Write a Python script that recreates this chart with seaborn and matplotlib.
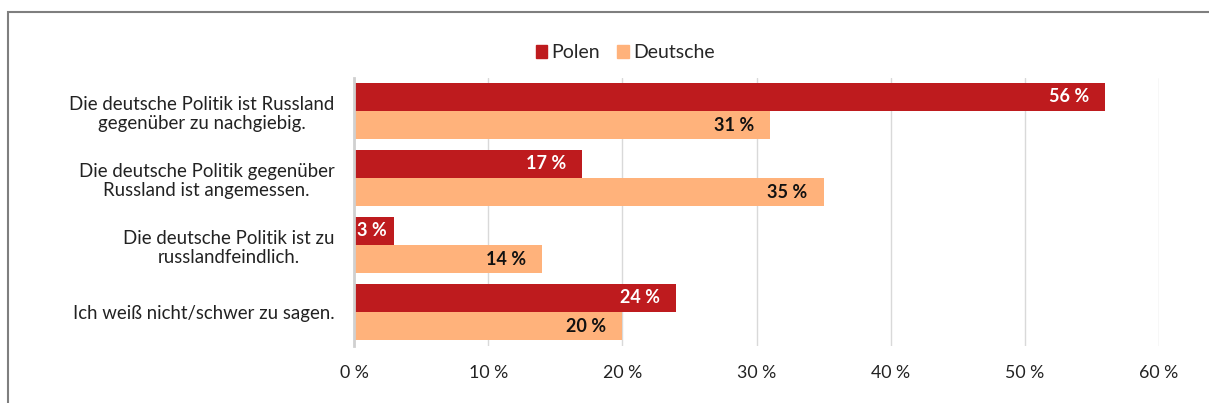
import matplotlib
matplotlib.use("Agg")
import matplotlib.pyplot as plt
import matplotlib.patches as mpatches
import seaborn as sns
import pandas as pd

categories = [
    "Die deutsche Politik ist Russland\ngegenüber zu nachgiebig.",
    "Die deutsche Politik gegenüber\nRussland ist angemessen.",
    "Die deutsche Politik ist zu\nrusslandfeindlich.",
    "Ich weiß nicht/schwer zu sagen.",
]
groups = ["Polen", "Deutsche"]
polen = [56, 17, 3, 24]
deutsche = [31, 35, 14, 20]
xticks = [0, 10, 20, 30, 40, 50, 60]
xticklabels = ["0 %", "10 %", "20 %", "30 %", "40 %", "50 %", "60 %"]

colors = {"Polen": "#BE1B1E", "Deutsche": "#FFB27B"}
label_colors = {"Polen": "white", "Deutsche": "#111111"}

df = pd.DataFrame({
    "cat": categories * 2,
    "group": [groups[0]] * 4 + [groups[1]] * 4,
    "val": polen + deutsche,
})

sns.set_theme(style="white")
plt.rcParams["font.family"] = ["Lato", "DejaVu Sans"]

fig = plt.figure(figsize=(12.09, 4.03), dpi=100)
W, H = 1209, 403
ax = fig.add_axes([354 / W, 1 - 345.5 / H, 805 / W, 268 / H])

sns.barplot(data=df, y="cat", x="val", hue="group", orient="h",
            palette=colors, width=0.836, ax=ax, legend=False,
            edgecolor="none", saturation=1)

for cont, g in zip(ax.containers, groups):
    for bar in cont:
        v = bar.get_width()
        yc = bar.get_y() + bar.get_height() / 2
        txt = f"{v:.0f} %"
        if v < 5:
            ax.text(0.2, yc, txt, ha="left", va="center",
                    color=label_colors[g], fontsize=13, fontweight="bold")
        else:
            ax.text(v - 1.2, yc, txt, ha="right", va="center",
                    color=label_colors[g], fontsize=13, fontweight="bold")

ax.set_xlim(0, 60)
ax.set_xticks(xticks)
ax.set_xticklabels(xticklabels, fontsize=12.8, color="#222222")
ax.set_xlabel("")
ax.set_ylabel("")
ax.tick_params(axis="y", length=0, pad=14, labelsize=13.4, labelcolor="#222222")
ax.tick_params(axis="x", length=0, pad=14)
for lab in ax.get_yticklabels():
    lab.set_multialignment("center")

ax.grid(axis="x", color="#D9D9D9", linewidth=1)
ax.set_axisbelow(True)
for s in ["top", "right", "bottom"]:
    ax.spines[s].set_visible(False)
ax.spines["left"].set_color("#D0D0D0")
ax.spines["left"].set_linewidth(2)

handles = [mpatches.Patch(color=colors[g], label=g) for g in groups]
fig.legend(handles=handles, loc="center", bbox_to_anchor=(625 / W, 1 - 53 / H),
           ncol=2, frameon=False, fontsize=14, handlelength=0.6,
           handleheight=0.6, handletextpad=0.2, columnspacing=0.9)

# outer frame (partial, cropped)
frame = mpatches.Rectangle((8 / W, -0.1), 1.2, 1 - 12 / H + 0.1,
                           transform=fig.transFigure, fill=False,
                           edgecolor="#7F7F7F", linewidth=1.5)
fig.add_artist(frame)

fig.savefig("out.png", dpi=100)
